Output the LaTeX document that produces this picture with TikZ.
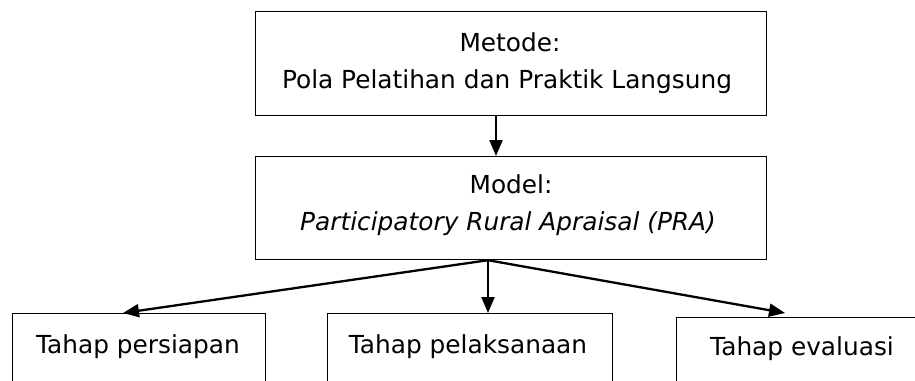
\documentclass[tikz,border=0pt]{standalone}
\usepackage{fontspec}
\setmainfont{DejaVu Sans}
\usetikzlibrary{arrows.meta}
\begin{document}
\begin{tikzpicture}[x=1pt,y=-1pt,
  box/.style={draw, line width=1.2pt, inner sep=0pt, anchor=north west},
  txt/.style={anchor=base, inner sep=0pt, font=\fontsize{24.8}{37}\selectfont},
  conn/.style={line width=2.3pt, -{Triangle[length=16pt,width=13pt]}}]
\useasboundingbox (0,0) rectangle (915,380);
\clip (0,0) rectangle (915,380);
% boxes
\node[box, minimum width=511pt, minimum height=104pt] (metode) at (255,11) {};
\node[box, minimum width=511pt, minimum height=103pt] (model) at (255,156) {};
\node[box, minimum width=253pt, minimum height=110pt] (persiapan) at (12,313) {};
\node[box, minimum width=285pt, minimum height=110pt] (pelaksanaan) at (327,313) {};
\node[box, minimum width=260pt, minimum height=110pt] (evaluasi) at (676,317) {};
% texts
\node[txt] (t1) at (510,51) {Metode:};
\node[txt] (t2) at (507,88) {Pola Pelatihan dan Praktik Langsung};
\node[txt] (t3) at (511,193) {Model:};
\node[txt] (t4) at (508,230) {\itshape Participatory Rural Apraisal (PRA)};
\node[txt] (t5) at (138,353) {Tahap persiapan};
\node[txt] (t6) at (468,353) {Tahap pelaksanaan};
\node[txt] (t7) at (802,355) {Tahap evaluasi};
% connector points
\coordinate (a1) at (metode.south -| 496,0);
\coordinate (a2) at (model.north -| 496,0);
\coordinate (br) at (model.south -| 488,0);
\coordinate (pl) at (persiapan.north -| 123,0);
\coordinate (pm) at (pelaksanaan.north -| 488,0);
\coordinate (pr) at (785,313);
\draw[conn] (a1) -- (a2);
\draw[conn] (br) -- (pl);
\draw[conn] (br) -- (pm);
\draw[conn] (br) -- (pr);
\end{tikzpicture}
\end{document}
